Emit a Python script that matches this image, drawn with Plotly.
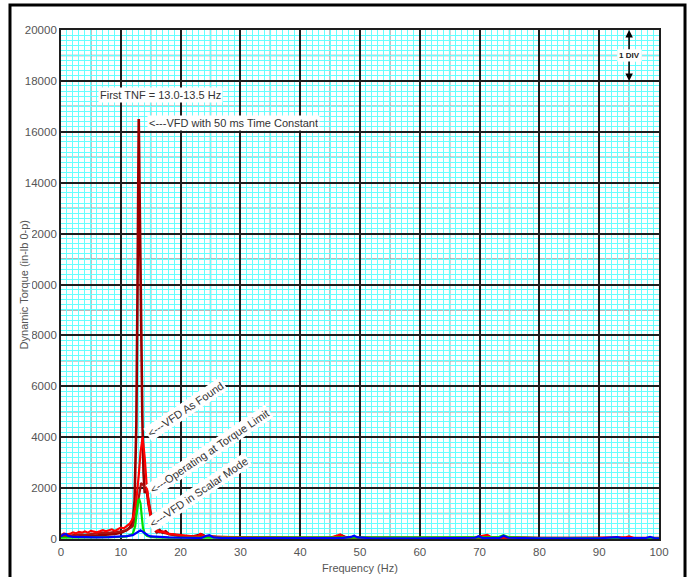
import plotly.graph_objects as go

# ---------------- data ----------------
freq_50ms = [0, 0.5, 1, 2, 3, 4, 5, 6, 7, 8, 9, 10, 11, 11.5, 12, 12.3, 12.6, 12.8, 13.0, 13.2, 13.4,
             13.6, 13.8, 14.0, 14.3, 14.6, 15.0, 15.4, 16, 16.5, 17, 17.5, 18, 19, 20, 22, 23, 23.5,
             24, 25, 26, 28, 30, 35, 40, 45, 46.5, 47, 47.5, 49, 50, 55, 60, 65, 70, 71, 72, 75, 80,
             85, 90, 93, 95, 96, 100]
torque_50ms = [100, 150, 120, 100, 110, 130, 120, 140, 150, 170, 200, 250, 350, 450, 700, 1500, 4500,
               10000, 16500, 12500, 8000, 4800, 2600, 1800, 2000, 1400, 900, 500, 300, 350, 250, 300,
               200, 150, 120, 100, 150, 180, 120, 90, 80, 70, 60, 55, 50, 50, 100, 130, 80, 60, 50, 45,
               40, 40, 60, 90, 60, 45, 40, 40, 40, 50, 60, 45, 40]

freq_asfound = [0, 0.5, 1, 1.5, 2, 2.5, 3, 3.5, 4, 4.5, 5, 5.5, 6, 6.5, 7, 7.5, 8, 8.5, 9, 9.5, 10, 10.5,
                11, 11.5, 12, 12.5, 13, 13.3, 13.65, 14.0, 14.3, 14.6, 15.0, 15.5, 16, 16.5, 17, 17.5,
                18, 19, 20, 21, 22, 23, 23.3, 23.8, 24.5, 26, 28, 30, 35, 40, 45, 46.3, 46.7, 47.2, 48,
                50, 55, 60, 65, 69, 70.5, 71.3, 72, 75, 80, 85, 90, 94.3, 95, 95.7, 100]
torque_asfound = [150, 220, 180, 200, 260, 220, 280, 250, 300, 250, 320, 280, 260, 300, 350, 300, 340,
                  380, 320, 400, 450, 420, 520, 600, 800, 1300, 2500, 3400, 4000, 3200, 2200, 1500, 900,
                  500, 350, 260, 300, 240, 200, 180, 150, 120, 100, 110, 200, 130, 90, 80, 70, 60, 55,
                  50, 50, 150, 180, 90, 60, 50, 45, 40, 40, 50, 120, 160, 60, 45, 40, 40, 40, 60, 100,
                  50, 40]

freq_torquelimit = [0, 1, 2, 3, 4, 5, 6, 7, 8, 9, 10, 11, 12, 12.5, 13, 13.4, 13.8, 14.1, 14.3, 14.5,
                    14.7, 15.0, 15.2, 15.5, 16, 16.5, 17, 18, 19, 20, 22, 24, 26, 30, 40, 50, 60, 70,
                    80, 90, 100]
torque_torquelimit = [80, 120, 150, 180, 160, 200, 220, 250, 240, 280, 300, 350, 500, 900, 1700, 2200,
                      2100, 1900, 2000, 1700, 1450, 1000, 800, 400, 250, 300, 250, 200, 150, 120, 100,
                      90, 70, 60, 50, 45, 40, 40, 40, 40, 40]

freq_green = [0, 2, 4, 6, 8, 10, 11, 12, 12.4, 12.7, 12.9, 13.1, 13.3, 13.5, 13.7, 14.0, 14.4, 15, 16,
              18, 20, 25, 30, 40, 50, 60, 70, 73, 74, 75, 80, 90, 100]
torque_green = [50, 50, 60, 60, 70, 80, 100, 200, 500, 1100, 1500, 1550, 1400, 900, 450, 200, 120, 80,
                60, 50, 50, 40, 40, 35, 35, 35, 35, 60, 150, 60, 35, 35, 35]

freq_scalar = [0, 0.4, 0.8, 1.2, 2, 4, 6, 8, 10, 11, 12, 12.5, 13, 13.3, 13.6, 14, 14.5, 15, 16, 17, 18,
               20, 22, 23, 23.5, 24.2, 24.8, 25.5, 27, 30, 40, 45, 47, 48.5, 49, 49.6, 52, 60, 65, 69.3,
               69.8, 70.5, 73.3, 74, 74.8, 80, 90, 92.5, 93, 93.7, 97.8, 98.5, 99.2, 100]
torque_scalar = [100, 180, 200, 120, 80, 60, 60, 70, 90, 110, 150, 220, 300, 340, 300, 220, 150, 100,
                 80, 70, 60, 50, 50, 50, 40, 120, 150, 60, 40, 35, 30, 30, 35, 80, 130, 60, 30, 30, 30,
                 50, 110, 40, 40, 130, 50, 30, 30, 40, 70, 40, 40, 80, 40, 30]

x_ticks = list(range(0, 101, 10))
y_ticks = list(range(0, 20001, 2000))

FONT = "Arial, Liberation Sans, sans-serif"

fig = go.Figure()
series = [
    (freq_50ms, torque_50ms, "#990000", 2.6),
    (freq_torquelimit, torque_torquelimit, "#a81010", 2.2),
    (freq_asfound, torque_asfound, "#ff0000", 2.2),
    (freq_green, torque_green, "#00e000", 2.2),
    (freq_scalar, torque_scalar, "#0000ff", 2.2),
]
for fx, fy, col, w in series:
    assert len(fx) == len(fy)
    fig.add_trace(go.Scatter(x=fx, y=fy, mode="lines", line=dict(color=col, width=w),
                             showlegend=False, hoverinfo="skip"))

# medium (gray) grid lines at half-major positions
shapes = []
for v in range(5, 100, 10):
    shapes.append(dict(type="line", xref="x", yref="paper", x0=v, x1=v, y0=0, y1=1,
                       line=dict(color="#a0a0a0", width=1.5), layer="between"))
for v in range(1000, 20000, 2000):
    shapes.append(dict(type="line", xref="paper", yref="y", x0=0, x1=1, y0=v, y1=v,
                       line=dict(color="#a0a0a0", width=1.5), layer="between"))
# outer frame
shapes.append(dict(type="rect", xref="paper", yref="paper", x0=-0.0853, x1=1.0435, y0=-0.2, y1=1.049,
                   line=dict(color="black", width=3), layer="above"))

fig.update_layout(
    width=691, height=577, autosize=False,
    margin=dict(l=61, r=32, t=30, b=38),
    paper_bgcolor="white", plot_bgcolor="white",
    font=dict(family=FONT, size=11, color="#444444"),
    shapes=shapes,
    xaxis=dict(range=[0, 100], tickvals=x_ticks, showgrid=True, gridcolor="#1e1e1e", gridwidth=1.8,
               minor=dict(dtick=1, showgrid=True, gridcolor="#66ffff", gridwidth=1.3),
               zeroline=False, showline=True, linecolor="#1e1e1e", linewidth=1.8, mirror=True,
               automargin=False, ticks="", ticklabelstandoff=1,
               tickfont=dict(size=11.5, color="#555555")),
    yaxis=dict(range=[0, 20000], tickvals=y_ticks, showgrid=True, gridcolor="#1e1e1e", gridwidth=1.8,
               minor=dict(dtick=200, showgrid=True, gridcolor="#66ffff", gridwidth=1.3),
               zeroline=False, showline=True, linecolor="#1e1e1e", linewidth=1.8, mirror=True,
               automargin=False, ticks="", tickfont=dict(size=11.5, color="#555555"), tickformat="d"),
)

ann_font = dict(family=FONT, size=11, color="#333333")
annotations = [
    dict(x=16.6, y=17450, xref="x", yref="y", text="First TNF = 13.0-13.5 Hz", showarrow=False,
         bgcolor="white", font=ann_font, xanchor="center", yanchor="middle"),
    dict(x=14.4, y=16350, xref="x", yref="y", text="<---VFD with 50 ms Time Constant", showarrow=False,
         bgcolor="white", font=ann_font, xanchor="left", yanchor="middle"),
    dict(x=20.9, y=5110, xref="x", yref="y", text="<---VFD As Found", showarrow=False, textangle=-34,
         bgcolor="white", font=ann_font, xanchor="center", yanchor="middle"),
    dict(x=24.9, y=3460, xref="x", yref="y", text="<---Operating at Torque Limit", showarrow=False,
         textangle=-34, bgcolor="white", font=ann_font, xanchor="center", yanchor="middle"),
    dict(x=23.1, y=1830, xref="x", yref="y", text="<---VFD in Scalar Mode", showarrow=False,
         textangle=-34, bgcolor="white", font=ann_font, xanchor="center", yanchor="middle"),
    dict(x=-0.062, y=0.5, xref="paper", yref="paper", text="Dynamic Torque (in-lb 0-p)", showarrow=False,
         textangle=-90, bgcolor="white", font=dict(family=FONT, size=11, color="#555555"),
         xanchor="center", yanchor="middle"),
    dict(x=0.5, y=-0.057, xref="paper", yref="paper", text="Frequency (Hz)", showarrow=False,
         font=dict(family=FONT, size=11, color="#555555"), xanchor="center", yanchor="middle"),
]
for yy in (20000, 18000):
    annotations.append(dict(x=95, y=yy, ax=95, ay=19000, xref="x", yref="y", axref="x", ayref="y",
                            text="<b>1 DIV</b>", showarrow=True, arrowhead=2, arrowsize=1,
                            arrowwidth=1.5, arrowcolor="black", standoff=0, bgcolor="white",
                            font=dict(family=FONT, size=8, color="#222222")))
fig.update_layout(annotations=annotations)

fig.write_html("out.html")
